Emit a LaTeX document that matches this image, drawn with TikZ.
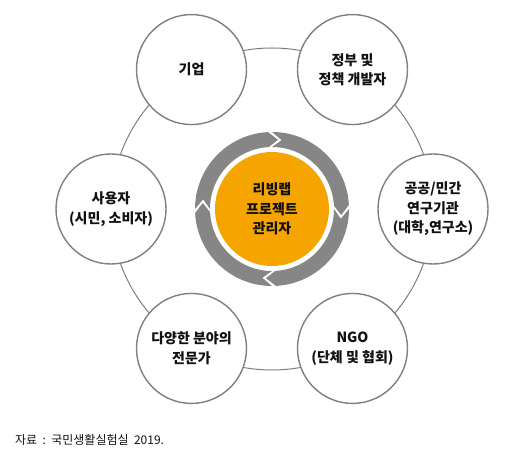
\documentclass[tikz,border=0pt]{standalone}
\usepackage{fontspec}
\newfontfamily\krfont{Noto Sans CJK KR}
\usepackage{xcolor}
\definecolor{hubOrange}{HTML}{F5A400}
\definecolor{ringGray}{HTML}{868686}
\definecolor{lineGray}{HTML}{7F7F7F}
\definecolor{darkText}{HTML}{111111}
\usepackage{tikz}
\usetikzlibrary{calc}

\begin{document}
\begin{tikzpicture}[
    x=1pt, y=1pt,
    partnerCircle/.style={
        circle,
        draw=lineGray,
        line width=1.4pt,
        fill=white,
        minimum size=110pt,
        inner sep=0pt,
        align=center,
        text=darkText,
        font=\krfont\bfseries\fontsize{14}{19.5}\selectfont
    },
    hubCircle/.style={
        circle,
        fill=hubOrange,
        minimum size=114pt,
        inner sep=0pt,
        align=center,
        text=darkText,
        font=\krfont\bfseries\fontsize{14}{19.5}\selectfont
    },
    orbitLine/.style={
        draw=lineGray,
        line width=1pt
    },
    cycleArrow/.style={
        fill=ringGray
    },
    captionText/.style={
        anchor=west,
        inner sep=0pt,
        text=darkText,
        font=\krfont\fontsize{12}{14}\selectfont
    }
]
\useasboundingbox (0,0) rectangle (532,460);

% Centre of the cycle
\coordinate (c) at (272,251);

% Outer orbit joining the partners
\draw[orbitLine] (c) circle[radius=161];

% Partners
\node[partnerCircle] (corp) at ($(c)+(120:161)$) {기업};
\node[partnerCircle] (gov) at ($(c)+(60:161)$) {정부 및\\정책 개발자};
\node[partnerCircle] (inst) at ($(c)+(0:161)$) {공공/민간\\연구기관\\(대학,연구소)};
\node[partnerCircle] (ngo) at ($(c)+(-60:161)$) {NGO\\(단체 및 협회)};
\node[partnerCircle] (expert) at ($(c)+(-120:161)$) {다양한 분야의\\전문가};
\node[partnerCircle] (user) at ($(c)+(180:161)$) {사용자\\(시민, 소비자)};

% Circular arrows (clockwise)
\begin{scope}[shift={(c)}]
\foreach \t [evaluate=\t as \h using \t-87,
             evaluate=\t as \hp using \t-95,
             evaluate=\t as \tp using \t-8] in {90,0,-90,-180}{
    \fill[cycleArrow] (\t:77) arc[start angle=\t, end angle=\h, radius=77]
        -- (\hp:69.5) -- (\h:62) arc[start angle=\h, end angle=\t, radius=62]
        -- (\tp:69.5) -- cycle;
}
\end{scope}

% Hub: project manager
\node[hubCircle] (hub) at (c) {리빙랩\\프로젝트\\관리자};

% Source
\node[captionText] (source) at (15,20) {자료\ \ :\ \ 국민생활실험실\ \ 2019.};

\end{tikzpicture}
\end{document}
